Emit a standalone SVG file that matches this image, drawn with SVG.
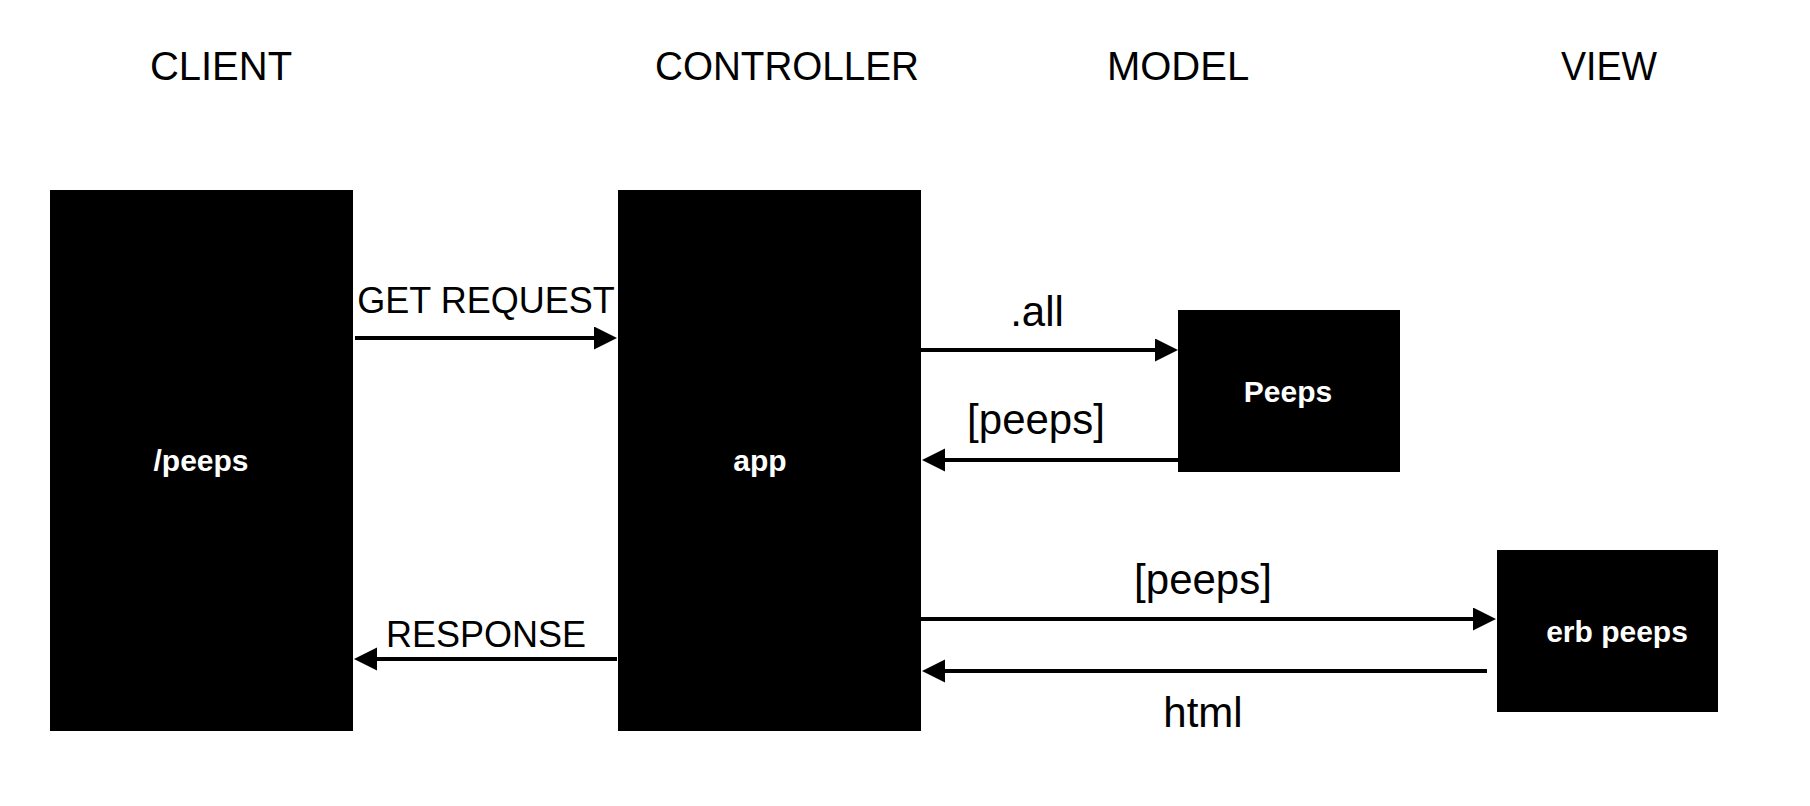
<svg xmlns="http://www.w3.org/2000/svg" width="1810" height="806" viewBox="0 0 1810 806">
  <style>
    .title { font-family: "Liberation Sans", Arial, sans-serif; font-size: 40px; fill: #000; text-anchor: middle; }
    .lbl { font-family: "Liberation Sans", Arial, sans-serif; fill: #000; text-anchor: middle; }
    .lbl36 { font-size: 36px; }
    .lbl42 { font-size: 42px; }
    .box { fill: #000; }
    .ntext { font-family: "Liberation Sans", Arial, sans-serif; font-size: 30px; font-weight: bold; fill: #fff; text-anchor: middle; }
    .conn { stroke: #000; stroke-width: 4; fill: none; marker-end: url(#arrow); }
  </style>
  <defs>
    <marker id="arrow" markerUnits="userSpaceOnUse" markerWidth="24" markerHeight="24" refX="2" refY="11.5" orient="auto">
      <path d="M0,0 L23,11.5 L0,23 Z" fill="#000"/>
    </marker>
  </defs>
  <rect width="1810" height="806" fill="#fff"/>

  <g id="titles">
    <text class="title" x="221" y="80">CLIENT</text>
    <text class="title" x="787" y="80" textLength="264" lengthAdjust="spacingAndGlyphs">CONTROLLER</text>
    <text class="title" x="1178" y="80">MODEL</text>
    <text class="title" x="1609" y="80" textLength="96" lengthAdjust="spacingAndGlyphs">VIEW</text>
  </g>

  <g id="node-client">
    <rect class="box" x="50" y="190" width="303" height="541"/>
    <text class="ntext" x="201" y="471">/peeps</text>
  </g>
  <g id="node-app">
    <rect class="box" x="618" y="190" width="303" height="541"/>
    <text class="ntext" x="760" y="471">app</text>
  </g>
  <g id="node-peeps">
    <rect class="box" x="1178" y="310" width="222" height="162"/>
    <text class="ntext" x="1288" y="401.5">Peeps</text>
  </g>
  <g id="node-erb">
    <rect class="box" x="1497" y="550" width="221" height="162"/>
    <text class="ntext" x="1617" y="641.5">erb peeps</text>
  </g>

  <g id="connectors">
    <line class="conn" x1="355" y1="338" x2="596" y2="338"/>
    <line class="conn" x1="617" y1="659" x2="375" y2="659"/>
    <line class="conn" x1="921" y1="350" x2="1157" y2="350"/>
    <line class="conn" x1="1178" y1="460" x2="943" y2="460"/>
    <line class="conn" x1="921" y1="619" x2="1475" y2="619"/>
    <line class="conn" x1="1487" y1="671" x2="943" y2="671"/>
    <text class="lbl lbl36" x="486" y="313">GET REQUEST</text>
    <text class="lbl lbl36" x="486" y="647">RESPONSE</text>
    <text class="lbl lbl42" x="1037" y="326">.all</text>
    <text class="lbl lbl42" x="1036" y="434">[peeps]</text>
    <text class="lbl lbl42" x="1203" y="594">[peeps]</text>
    <text class="lbl lbl42" x="1203" y="727">html</text>
  </g>
</svg>
